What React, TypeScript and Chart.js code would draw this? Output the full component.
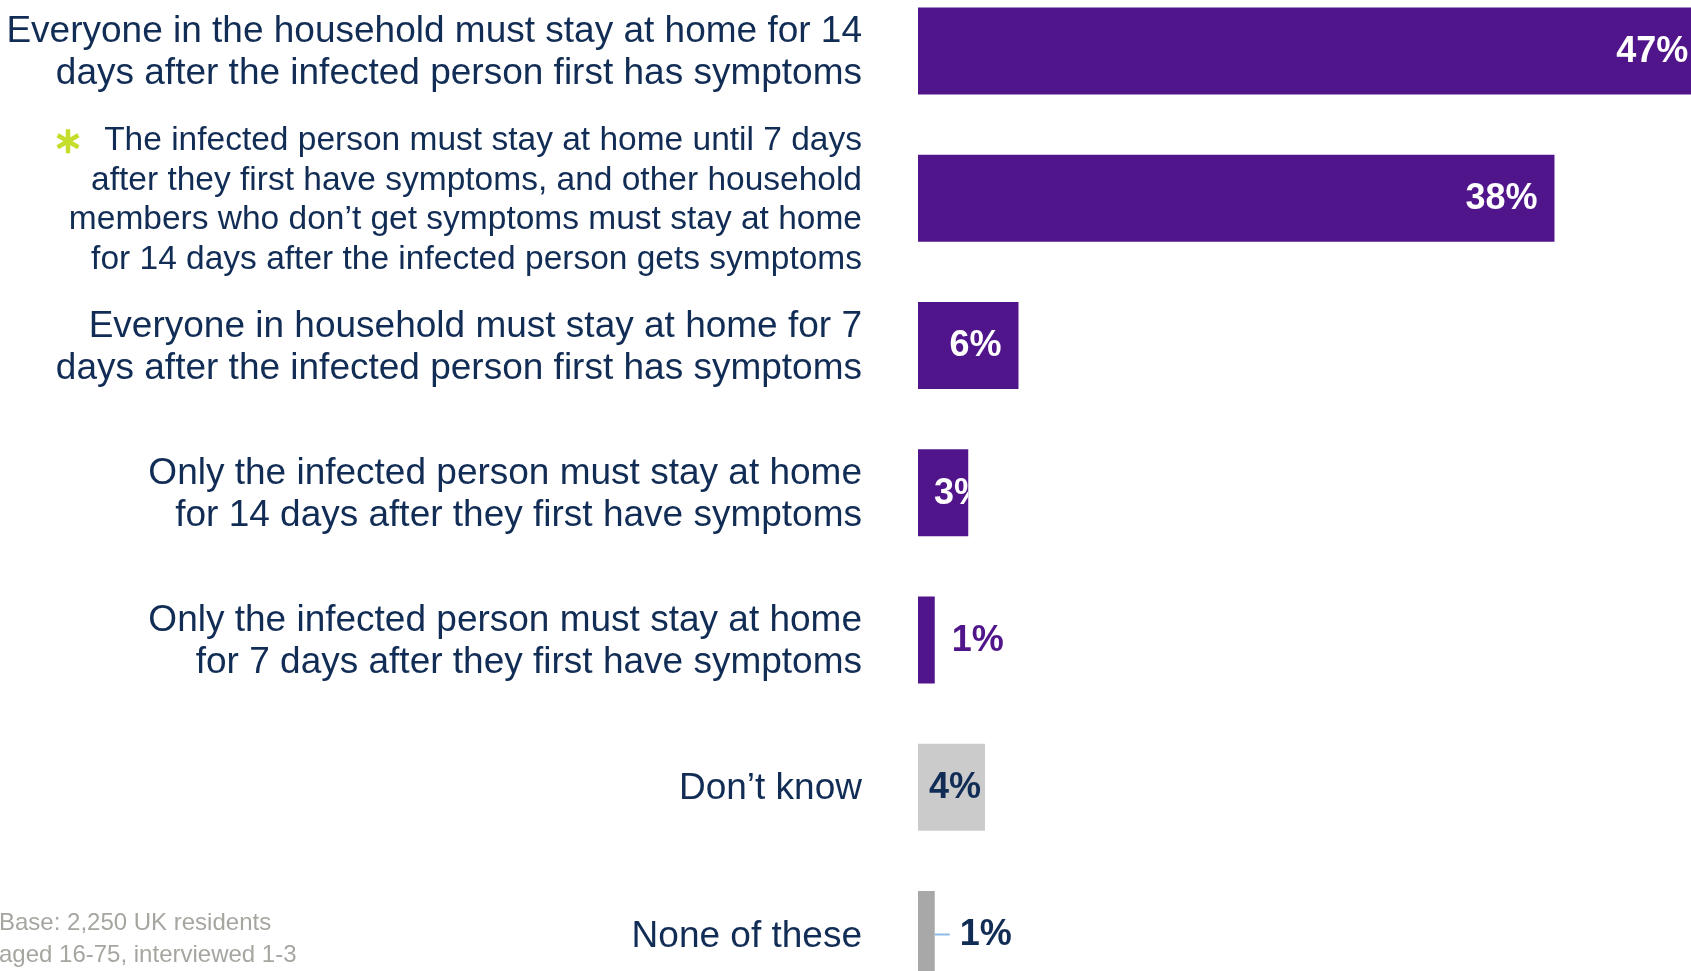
import React, { useEffect, useRef } from 'react';
import { Chart, registerables } from 'chart.js';

Chart.register(...registerables);

// ---------- data ----------
const categories: string[][] = [
  ['Everyone in the household must stay at home for 14', 'days after the infected person first has symptoms'],
  [
    'The infected person must stay at home until 7 days',
    'after they first have symptoms, and other household',
    'members who don’t get symptoms must stay at home',
    'for 14 days after the infected person gets symptoms',
  ],
  ['Everyone in household must stay at home for 7', 'days after the infected person first has symptoms'],
  ['Only the infected person must stay at home', 'for 14 days after they first have symptoms'],
  ['Only the infected person must stay at home', 'for 7 days after they first have symptoms'],
  ['Don’t know'],
  ['None of these'],
];
const values: number[] = [47, 38, 6, 3, 1, 4, 1];
const valueLabels: string[] = values.map((v) => `${v}%`);
const otherFromIndex = 5; // "Don't know" and "None of these"
const highlightedIndex = 1; // marked with the green asterisk
const footnote: string[] = ['Base: 2,250 UK residents', 'aged 16-75, interviewed 1-3'];

// ---------- styles ----------
const PURPLE = '#50158b';
const NAVY = '#122d55';
const GREY_LIGHT = '#cbcbcb';
const GREY_DARK = '#a8a8a8';
const GREEN = '#c6dd2c';
const LEADER = '#8dbbe8';
const FONT = '"Liberation Sans", Arial, Helvetica, sans-serif';

const barColors = values.map((_, i) =>
  i < otherFromIndex ? PURPLE : i === otherFromIndex ? GREY_LIGHT : GREY_DARK
);

const valueLabelPlugin = {
  id: 'valueLabelPlugin',
  afterDatasetsDraw(chart: any) {
    const ctx: CanvasRenderingContext2D = chart.ctx;
    const meta = chart.getDatasetMeta(0);
    meta.data.forEach((el: any, i: number) => {
      const { x, y, base, height } = el.getProps(['x', 'y', 'base', 'height'], true);
      const v = values[i];
      const text = valueLabels[i];
      const isOther = i >= otherFromIndex;
      ctx.save();
      ctx.font = `bold 36px ${FONT}`;
      ctx.textBaseline = 'middle';
      if (!isOther) {
        if (v >= 5) {
          ctx.fillStyle = '#ffffff';
          ctx.textAlign = 'right';
          ctx.fillText(text, x - 17, y + 1);
        } else if (v >= 2) {
          ctx.beginPath();
          ctx.rect(base, y - height / 2, x - base, height);
          ctx.clip();
          ctx.fillStyle = '#ffffff';
          ctx.textAlign = 'left';
          ctx.fillText(text, base + 16, y + 1);
        } else {
          ctx.fillStyle = PURPLE;
          ctx.textAlign = 'left';
          ctx.fillText(text, x + 17, y + 1);
        }
      } else {
        if (v >= 2) {
          ctx.fillStyle = NAVY;
          ctx.textAlign = 'right';
          ctx.fillText(text, x - 4, y + 1);
        } else {
          ctx.strokeStyle = LEADER;
          ctx.lineWidth = 2;
          ctx.beginPath();
          ctx.moveTo(x, y);
          ctx.lineTo(x + 15, y);
          ctx.stroke();
          ctx.fillStyle = NAVY;
          ctx.textAlign = 'left';
          ctx.fillText(text, x + 25, y + 1);
        }
      }
      ctx.restore();
    });
  },
};

const asteriskPlugin = {
  id: 'asteriskPlugin',
  afterDraw(chart: any) {
    const yScale = chart.scales.y;
    const ctx: CanvasRenderingContext2D = chart.ctx;
    const cy = yScale.getPixelForValue(highlightedIndex) - 57;
    const cx = 68;
    const r = 12;
    ctx.save();
    ctx.strokeStyle = GREEN;
    ctx.lineWidth = 4.5;
    ctx.lineCap = 'butt';
    for (let k = 0; k < 3; k++) {
      const a = Math.PI / 2 + (k * Math.PI) / 3;
      ctx.beginPath();
      ctx.moveTo(cx + r * Math.cos(a), cy + r * Math.sin(a));
      ctx.lineTo(cx - r * Math.cos(a), cy - r * Math.sin(a));
      ctx.stroke();
    }
    ctx.restore();
  },
};

export default function App() {
  const canvasRef = useRef<HTMLCanvasElement | null>(null);

  useEffect(() => {
    if (!canvasRef.current) return;
    const chart = new Chart(canvasRef.current, {
      type: 'bar',
      data: {
        labels: categories,
        datasets: [
          {
            data: values,
            backgroundColor: barColors,
            borderWidth: 0,
            categoryPercentage: 1,
            barPercentage: 0.59,
            clip: false as any,
          },
        ],
      },
      options: {
        indexAxis: 'y',
        animation: false,
        responsive: false,
        maintainAspectRatio: false,
        layout: { padding: { top: 51, bottom: 36.5, left: 0, right: 0 } },
        plugins: {
          legend: { display: false },
          tooltip: { enabled: false },
        },
        scales: {
          x: {
            type: 'linear',
            min: 0,
            max: 46.15,
            display: false,
          },
          y: {
            type: 'category',
            offset: false,
            grid: { display: false, drawTicks: false },
            border: { display: false },
            afterFit: (scale: any) => {
              scale.width = 918;
              scale.paddingTop = 0;
              scale.paddingBottom = 0;
            },
            ticks: {
              color: NAVY,
              padding: 56,
              labelOffset: 2,
              autoSkip: false,
              font: (ctx: any) =>
                ctx.index === highlightedIndex
                  ? { family: FONT, size: 33.5, lineHeight: 1.19 }
                  : { family: FONT, size: 37, lineHeight: 1.135 },
            },
          },
        },
      },
      plugins: [valueLabelPlugin, asteriskPlugin],
    });
    return () => chart.destroy();
  }, []);

  return (
    <div
      style={{
        position: 'fixed',
        left: 0,
        top: 0,
        width: 1691,
        height: 971,
        overflow: 'hidden',
        background: '#ffffff',
      }}
    >
      <canvas ref={canvasRef} width={1691} height={971} style={{ display: 'block' }} />
      <div
        style={{
          position: 'absolute',
          left: -1,
          top: 906,
          fontFamily: FONT,
          fontSize: 24,
          lineHeight: '32px',
          color: '#a6a6a0',
          whiteSpace: 'nowrap',
        }}
      >
        {footnote.map((line) => (
          <div key={line}>{line}</div>
        ))}
      </div>
    </div>
  );
}
